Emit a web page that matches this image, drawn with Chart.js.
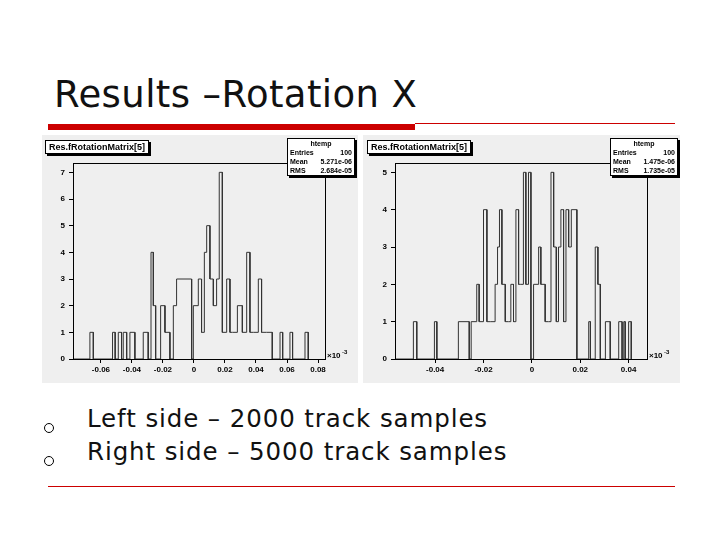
<!DOCTYPE html>
<html><head><meta charset="utf-8">
<script src="https://cdn.jsdelivr.net/npm/chart.js@4"></script>
<style>
body{margin:0;width:720px;height:540px;background:#fff;position:relative;overflow:hidden;font-family:"DejaVu Sans",sans-serif}
.abs{position:absolute}
.panel{background:#efefef}
.tbox{position:absolute;background:#fff;border:1px solid #000;font:bold 9px "Liberation Sans",Arial,sans-serif;box-shadow:2px 2px 0 #000;padding:1px 3px}
.sbox{position:absolute;background:#fff;border:1px solid #000;font:bold 7px "Liberation Sans",Arial,sans-serif;box-shadow:2px 2px 0 #000}
.sbox div{display:flex;justify-content:space-between;padding:0 2px;line-height:9px}
</style></head><body>
<div class="abs" style="left:54px;top:73px;font-size:37px;color:#111;letter-spacing:0.4px">Results –Rotation X</div>
<div class="abs" style="left:48px;top:124px;width:367px;height:6px;background:#cc0000"></div>
<div class="abs" style="left:415px;top:123px;width:260px;height:1px;background:#cc0000"></div>
<div class="abs" style="left:48px;top:486px;width:627px;height:1px;background:#cc0000"></div>
<div class="abs" style="left:44px;top:423px;width:8px;height:8px;border:1.5px solid #000;border-radius:50%"></div>
<div class="abs" style="left:44px;top:456px;width:8px;height:8px;border:1.5px solid #000;border-radius:50%"></div>
<div class="abs" style="left:87px;top:404px;font-size:24.5px;color:#111;letter-spacing:0.9px">Left side – 2000 track samples</div>
<div class="abs" style="left:87px;top:437px;font-size:24.5px;color:#111;letter-spacing:0.9px">Right side – 5000 track samples</div>

<div class="abs panel" style="left:42px;top:135px;width:316px;height:248px"><canvas id="c1"></canvas></div>
<div class="abs panel" style="left:363px;top:135px;width:317px;height:248px"><canvas id="c2"></canvas></div>

<div class="tbox" style="left:45px;top:140px">Res.fRotationMatrix[5]</div>
<div class="sbox" style="left:287px;top:138px;width:66px"><div style="justify-content:center">htemp</div><div><span>Entries</span><span>100</span></div><div><span>Mean</span><span>5.271e-06</span></div><div><span>RMS</span><span>2.684e-05</span></div></div>
<div class="tbox" style="left:367px;top:140px">Res.fRotationMatrix[5]</div>
<div class="sbox" style="left:610px;top:138px;width:66px"><div style="justify-content:center">htemp</div><div><span>Entries</span><span>100</span></div><div><span>Mean</span><span>1.475e-06</span></div><div><span>RMS</span><span>1.735e-05</span></div></div>

<script>
// Left histogram (bin start, bin end, count)
const leftStarts=[-0.0671,-0.0525,-0.0488,-0.0456,-0.0413,-0.0327,-0.0277,-0.0262,-0.0215,-0.0187,-0.0133,-0.0112,-0.0004,0.0028,0.0049,0.0067,0.0082,0.0103,0.0125,0.0146,0.0163,0.0183,0.0211,0.0232,0.0249,0.0280,0.0312,0.0340,0.0361,0.0383,0.0415,0.0436,0.0469,0.0555,0.0619,0.0716];
const leftEnds  =[-0.0649,-0.0508,-0.0467,-0.0434,-0.0381,-0.0295,-0.0262,-0.0247,-0.0187,-0.0155,-0.0112,-0.0015,0.0028,0.0049,0.0067,0.0082,0.0103,0.0125,0.0146,0.0163,0.0183,0.0211,0.0232,0.0249,0.0280,0.0312,0.0340,0.0361,0.0383,0.0415,0.0436,0.0469,0.0505,0.0572,0.0636,0.0737];
const leftCounts=[1,1,1,1,1,1,4,2,2,1,2,3,2,3,1,4,5,3,2,3,7,1,3,1,1,2,1,4,1,1,3,1,1,1,1,1];
const leftXTicks=[-0.06,-0.04,-0.02,0,0.02,0.04,0.06,0.08];
const leftYTicks=[0,1,2,3,4,5,6,7];
// Right histogram
const rightStarts=[-0.0490,-0.0403,-0.0304,-0.0251,-0.0228,-0.0218,-0.0200,-0.0186,-0.0172,-0.0152,-0.0142,-0.0134,-0.0124,-0.0110,-0.0097,-0.0087,-0.0076,-0.0066,-0.0055,-0.0046,-0.0035,-0.0025,-0.0014,0.0007,0.0028,0.0037,0.0055,0.0069,0.0079,0.0090,0.0101,0.0110,0.0120,0.0131,0.0141,0.0152,0.0163,0.0235,0.0262,0.0273,0.0304,0.0359,0.0380,0.0400];
const rightEnds  =[-0.0476,-0.0393,-0.0259,-0.0228,-0.0218,-0.0200,-0.0186,-0.0172,-0.0152,-0.0142,-0.0134,-0.0124,-0.0110,-0.0097,-0.0087,-0.0076,-0.0066,-0.0055,-0.0046,-0.0035,-0.0025,-0.0014,-0.0004,0.0028,0.0037,0.0055,0.0069,0.0079,0.0090,0.0101,0.0110,0.0120,0.0131,0.0141,0.0152,0.0163,0.0186,0.0242,0.0273,0.0283,0.0324,0.0373,0.0386,0.0411];
const rightCounts=[1,1,1,1,2,1,4,1,1,2,3,4,2,1,1,2,1,4,2,2,5,2,5,2,3,2,1,1,5,3,1,3,4,1,4,3,4,1,3,2,1,1,1,1];
const rightXTicks=[-0.04,-0.02,0,0.02,0.04];
const rightYTicks=[0,1,2,3,4,5];

function steps(s,e,c,xmin){const p=[{x:xmin,y:0}];
 for(let i=0;i<s.length;i++){
  const joined=i>0&&Math.abs(e[i-1]-s[i])<1e-9;
  if(!joined)p.push({x:s[i],y:0});
  p.push({x:s[i],y:c[i]});p.push({x:e[i],y:c[i]});
  const next=i<s.length-1&&Math.abs(e[i]-s[i+1])<1e-9;
  if(!next)p.push({x:e[i],y:0});
 }return p;}
const frame={id:'frame',afterDraw(ch){const a=ch.chartArea,g=ch.ctx;g.save();g.strokeStyle='#000';g.lineWidth=1;g.strokeRect(a.left+0.5,a.top+0.5,a.right-a.left,a.bottom-a.top);
g.fillStyle='#000';g.font='bold 8px "Liberation Sans",Arial';g.fillText('\u00d710',a.right+2,a.bottom-1);g.font='bold 6px "Liberation Sans"';g.fillText('-3',a.right+17,a.bottom-5);g.restore();}};
function make(id,s,e,c,xmin,xmax,ymax,xt,yt,pl,pr){
 new Chart(document.getElementById(id),{type:'line',
  data:{datasets:[{data:steps(s,e,c,xmin),borderColor:'#333',borderWidth:1,pointRadius:0,fill:false,tension:0}]},
  options:{responsive:false,animation:false,events:[],layout:{padding:{top:28,right:pr,left:0,bottom:0}},
   plugins:{legend:{display:false},tooltip:{enabled:false}},
   scales:{x:{type:'linear',min:xmin,max:xmax,afterBuildTicks:sc=>{sc.ticks=xt.map(v=>({value:v}));},afterFit:sc=>{sc.height=24;},
     grid:{drawOnChartArea:false,tickLength:4,color:'#000'},border:{display:false},
     ticks:{color:'#000',font:{size:8,weight:'bold',family:'Liberation Sans'},maxRotation:0,padding:2,callback:v=>v===0?'0':String(v)}},
    y:{min:0,max:ymax,afterBuildTicks:sc=>{sc.ticks=yt.map(v=>({value:v}));},afterFit:sc=>{sc.width=pl;},
     grid:{drawOnChartArea:false,tickLength:4,color:'#000'},border:{display:false},
     ticks:{color:'#000',font:{size:8,weight:'bold',family:'Liberation Sans'},padding:4}}}},
  plugins:[frame]});
}
const c1=document.getElementById('c1');c1.width=316;c1.height=248;
const c2=document.getElementById('c2');c2.width=317;c2.height=248;
make('c1',leftStarts,leftEnds,leftCounts,-0.078,0.0845,7.35,leftXTicks,leftYTicks,31,33);
make('c2',rightStarts,rightEnds,rightCounts,-0.0566,0.0476,5.25,rightXTicks,rightYTicks,32,33);
</script></body></html>
